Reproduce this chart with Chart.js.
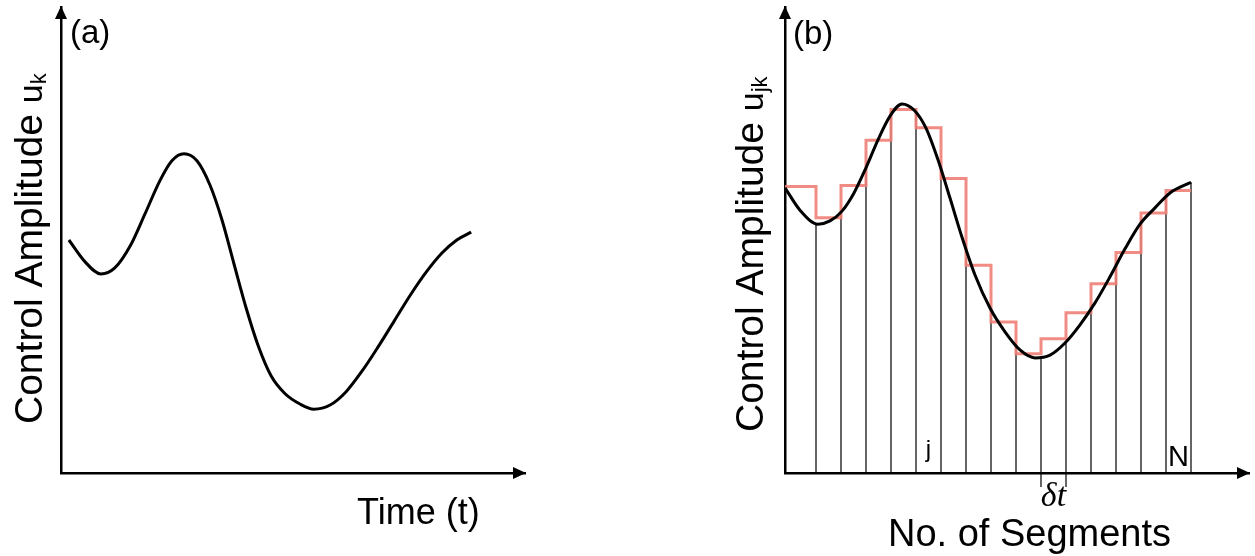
<!DOCTYPE html>
<html>
<head>
<meta charset="utf-8">
<script src="https://cdn.jsdelivr.net/npm/chart.js@4.4.1/dist/chart.umd.min.js"></script>
<style>
  html, body { margin: 0; padding: 0; background: #fff; }
  body { width: 1255px; height: 556px; position: relative; overflow: hidden; }
  canvas { position: absolute; top: 0; }
  #panelA { left: 0; }
  #panelB { left: 620px; }
</style>
</head>
<body>
<canvas id="panelA" width="620" height="556"></canvas>
<canvas id="panelB" width="635" height="556"></canvas>
<script>
// (a) continuous control amplitude vs time (arbitrary units, axis runs 0..10)
const timeA = [0.17, 0.52, 0.86, 1.16, 1.49, 1.81, 2.13, 2.39, 2.65, 2.93, 3.21, 3.47,
               3.73, 3.99, 4.25, 4.53, 4.83, 5.15, 5.45, 5.80, 6.14, 6.49, 6.83, 7.18,
               7.53, 7.87, 8.21, 8.53, 8.84];
const ampA = [5.00, 4.53, 4.27, 4.40, 4.87, 5.56, 6.27, 6.70, 6.85, 6.70, 6.18, 5.43,
              4.48, 3.54, 2.73, 2.08, 1.70, 1.48, 1.37, 1.46, 1.74, 2.19, 2.70, 3.26,
              3.82, 4.31, 4.72, 5.00, 5.17];

// (b) same kind of pulse, x in units of one segment width (δt)
const timeB = [0, 0.6, 1.32, 1.8, 2.28, 2.76, 3.24, 3.72, 4.2, 4.68, 5.16, 5.64, 6.12,
               6.6, 7.08, 7.6, 8.2, 8.8, 9.4, 10.0, 10.6, 11.2, 11.8, 12.4, 13.0,
               13.6, 14.2, 14.8, 15.4, 16.24];
const ampB = [6.12, 5.64, 5.34, 5.41, 5.62, 6.01, 6.55, 7.15, 7.66, 7.92, 7.79, 7.40, 6.72,
              5.90, 5.06, 4.25, 3.54, 3.03, 2.64, 2.47, 2.53, 2.79, 3.18, 3.65, 4.21,
              4.81, 5.34, 5.69, 6.01, 6.24];

// piecewise-constant approximation: segment edges and one amplitude per segment
const segmentEdges = [0, 1.24, 2.24, 3.24, 4.24, 5.24, 6.24, 7.24, 8.24, 9.24,
                      10.24, 11.24, 12.24, 13.24, 14.24, 15.24, 16.24];
const segmentAmps = [6.15, 5.48, 6.17, 7.14, 7.80, 7.41, 6.32, 4.46, 3.24, 2.56,
                     2.88, 3.44, 4.06, 4.73, 5.58, 6.06];
// height of the thin divider at each edge (segmentEdges[1..16])
const edgeTops = [5.34, 5.58, 6.55, 7.73, 7.75, 6.50, 4.61, 3.43, 2.70, 2.49,
                  2.81, 3.48, 4.48, 5.39, 5.90, 6.24];

// the δt segment, whose edges poke below the axis, and the labelled segments
const deltaSegment = 11;
const deltaDepth = -0.3;
const jSegment = 6;
const nSegment = 16;

const SANS = 'Helvetica, Arial, "Liberation Sans", sans-serif';
const SERIF = '"Liberation Serif", "Times New Roman", "DejaVu Serif", serif';

function pts(xs, ys) {
  return xs.map((x, i) => ({ x: x, y: ys[i] }));
}

function segCenter(k) {
  return (segmentEdges[k - 1] + segmentEdges[k]) / 2;
}

function drawText(ctx, str, x, y, font, align) {
  ctx.font = font;
  ctx.textAlign = align || "left";
  ctx.textBaseline = "alphabetic";
  ctx.fillText(str, x, y);
}

// rotated axis title made of pieces with their own size (for the subscripts)
function drawYTitle(ctx, x, y, parts) {
  ctx.save();
  ctx.translate(x, y);
  ctx.rotate(-Math.PI / 2);
  ctx.textAlign = "left";
  ctx.textBaseline = "alphabetic";
  let cx = 0;
  for (const p of parts) {
    ctx.font = p.size + "px " + SANS;
    ctx.fillText(p.text, cx, p.dy || 0);
    cx += ctx.measureText(p.text).width;
  }
  ctx.restore();
}

function decorPlugin(drawLabels) {
  return {
    id: "decor",
    afterDraw(chart) {
      const { ctx, chartArea: a } = chart;
      ctx.save();
      ctx.fillStyle = "#000";
      // arrow heads
      ctx.beginPath();
      ctx.moveTo(a.left, a.top - 1);
      ctx.lineTo(a.left - 6, a.top + 12);
      ctx.lineTo(a.left + 6, a.top + 12);
      ctx.closePath();
      ctx.fill();
      ctx.beginPath();
      ctx.moveTo(a.right + 1, a.bottom);
      ctx.lineTo(a.right - 12, a.bottom - 6);
      ctx.lineTo(a.right - 12, a.bottom + 6);
      ctx.closePath();
      ctx.fill();
      drawLabels(ctx, chart);
      ctx.restore();
    },
  };
}

function axis(max) {
  return {
    type: "linear",
    min: 0,
    max: max,
    ticks: { display: false },
    grid: { display: false, drawTicks: false },
    border: { display: true, color: "#000", width: 2.5 },
  };
}

function options(padding, xMax) {
  return {
    responsive: false,
    animation: false,
    devicePixelRatio: 1,
    layout: { padding: padding },
    plugins: { legend: { display: false }, tooltip: { enabled: false } },
    elements: { point: { radius: 0 } },
    scales: { x: axis(xMax), y: axis(10) },
  };
}

// ---- panel (a)
new Chart(document.getElementById("panelA"), {
  type: "line",
  data: {
    datasets: [
      {
        data: pts(timeA, ampA),
        borderColor: "#000",
        borderWidth: 3,
        cubicInterpolationMode: "monotone",
        fill: false,
      },
    ],
  },
  options: options({ left: 61, top: 7, right: 95, bottom: 83 }, 10),
  plugins: [
    decorPlugin((ctx) => {
      drawText(ctx, "(a)", 70, 43, "33px " + SANS);
      drawText(ctx, "Time (t)", 357, 524, "36px " + SANS);
      drawYTitle(ctx, 42, 424, [
        { text: "Control Amplitude ", size: 39 },
        { text: "u", size: 34 },
        { text: "k", size: 22, dy: 4 },
      ]);
    }),
  ],
});

// ---- panel (b)
const dividers = [];
segmentEdges.slice(1).forEach((e, i) => {
  const k = i + 1;
  const low = k === deltaSegment - 1 || k === deltaSegment ? deltaDepth : 0;
  dividers.push({ x: e, y: low }, { x: e, y: edgeTops[i] }, { x: e, y: null });
});

const stepPts = segmentEdges.map((e, i) => ({
  x: e,
  y: segmentAmps[Math.min(i, segmentAmps.length - 1)],
}));

new Chart(document.getElementById("panelB"), {
  type: "line",
  data: {
    datasets: [
      {
        data: pts(timeB, ampB),
        borderColor: "#000",
        borderWidth: 3,
        cubicInterpolationMode: "monotone",
        fill: false,
        order: 0,
      },
      {
        data: stepPts,
        borderColor: "rgba(238,128,118,0.9)",
        borderWidth: 3,
        stepped: "before",
        fill: false,
        order: 1,
      },
      {
        data: dividers,
        borderColor: "#000",
        borderWidth: 1.2,
        spanGaps: false,
        fill: false,
        clip: false,
        order: 2,
      },
    ],
  },
  options: options({ left: 165, top: 7, right: 6, bottom: 83 }, 18.56),
  plugins: [
    decorPlugin((ctx, chart) => {
      const x = chart.scales.x;
      drawText(ctx, "(b)", 173, 44, "33px " + SANS);
      drawText(ctx, "No. of Segments", 268, 546, "38px " + SANS);
      drawText(ctx, "j", x.getPixelForValue(segCenter(jSegment)), 457, "24px " + SANS, "center");
      drawText(ctx, "N", x.getPixelForValue(segCenter(nSegment)), 466, "29px " + SANS, "center");
      drawText(ctx, "\u03B4t", x.getPixelForValue(segCenter(deltaSegment)), 506, "italic 34px " + SERIF, "center");
      drawYTitle(ctx, 143, 432, [
        { text: "Control Amplitude ", size: 39 },
        { text: "u", size: 34 },
        { text: "jk", size: 22, dy: 4 },
      ]);
    }),
  ],
});
</script>
</body>
</html>
